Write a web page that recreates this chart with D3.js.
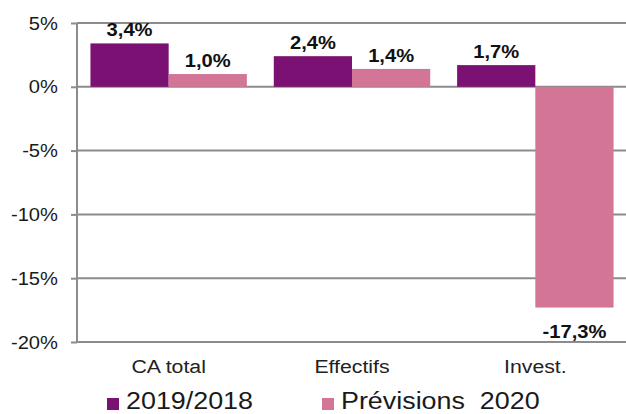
<!DOCTYPE html>
<html>
<head>
<meta charset="utf-8">
<script src="https://cdn.jsdelivr.net/npm/d3@7"></script>
<style>
  html, body { margin: 0; padding: 0; background: #fff; }
  svg { display: block; font-family: Arial, "Liberation Sans", sans-serif; }
</style>
</head>
<body>
<svg id="chart" width="626" height="414"></svg>
<script>
// Variation of key indicators
const categories = ["CA total", "Effectifs", "Invest."];
const seriesNames = ["2019/2018", "Prévisions  2020"];
const values2019 = [3.4, 2.4, 1.7];
const valuesPrev2020 = [1.0, 1.4, -17.3];
const yTicks = [5, 0, -5, -10, -15, -20];
const colors = ["#7B1172", "#D27597"];

const series = [values2019, valuesPrev2020];
const frFmt = d3.formatLocale({ decimal: ",", thousands: " ", grouping: [3], currency: ["", " €"], minus: "-" });
const fmt1 = frFmt.format(".1f");

const svg = d3.select("#chart");
const plot = { left: 77, right: 627, top: 23, bottom: 342 };
const sx = 1.12; // horizontal text stretch

const x0 = d3.scaleBand().domain(categories).range([plot.left, plot.right]).paddingInner(0).paddingOuter(0);
const x1 = d3.scaleBand().domain(d3.range(seriesNames.length)).range([0, x0.bandwidth()]).paddingInner(0).paddingOuter(0.172);
const y = d3.scaleLinear().domain([-20, 5]).range([plot.bottom, plot.top]);

function text(g, x, yy, str, opts) {
  return g.append("text")
    .attr("transform", `translate(${x},${yy}) scale(${sx},1)`)
    .attr("text-anchor", opts.anchor || "middle")
    .attr("font-size", opts.size)
    .attr("font-weight", opts.weight || "normal")
    .attr("fill", opts.fill || "#1a1a1a")
    .text(str);
}

// Horizontal grid lines
svg.append("g").selectAll("line").data(yTicks).join("line")
  .attr("x1", plot.left).attr("x2", plot.right)
  .attr("y1", d => y(d)).attr("y2", d => y(d))
  .attr("stroke", "#8c8c8c").attr("stroke-width", 2);

// Bars
const groups = svg.append("g").selectAll("g").data(categories).join("g")
  .attr("transform", d => `translate(${x0(d)},0)`);
groups.selectAll("rect")
  .data((c, i) => series.map((s, k) => ({ k, v: s[i] })))
  .join("rect")
  .attr("x", d => x1(d.k))
  .attr("width", x1.bandwidth())
  .attr("y", d => y(Math.max(0, d.v)))
  .attr("height", d => Math.abs(y(d.v) - y(0)))
  .attr("fill", d => colors[d.k]);

// Left axis with ticks
const axis = svg.append("g").attr("transform", `translate(${plot.left},0)`)
  .call(d3.axisLeft(y).tickValues(yTicks).tickSize(6).tickFormat(""));
axis.select(".domain").attr("stroke", "#8c8c8c").attr("stroke-width", 2)
  .attr("d", `M0,${plot.top}V${plot.bottom}`);
axis.selectAll(".tick line").attr("stroke", "#8c8c8c").attr("stroke-width", 2);

// Tick labels
const tickG = svg.append("g");
yTicks.forEach(t => text(tickG, 58, y(t) + 6.5, frFmt.format("d")(t) + "%", { anchor: "end", size: 18 }));

// Value labels
const labG = svg.append("g");
categories.forEach((c, i) => {
  series.forEach((s, k) => {
    const v = s[i];
    const cx = x0(c) + x1(k) + x1.bandwidth() / 2;
    const yy = v >= 0 ? y(v) - 7 : y(v) + 30;
    text(labG, cx, yy, fmt1(v) + "%", { size: 18, weight: "bold", fill: "#111" });
  });
});

// Category labels
const catG = svg.append("g");
categories.forEach(c => text(catG, x0(c) + x0.bandwidth() / 2, 373, c, { size: 19, fill: "#222" }));

// Legend
const legend = svg.append("g");
const legendX = [107, 322];
seriesNames.forEach((name, k) => {
  legend.append("rect").attr("x", legendX[k]).attr("y", 398).attr("width", 12).attr("height", 12).attr("fill", colors[k]);
  text(legend, legendX[k] + 19, 409, name, { anchor: "start", size: 24, fill: "#1a1a1a" })
    .attr("xml:space", "preserve").style("white-space", "pre");
});
</script>
</body>
</html>
